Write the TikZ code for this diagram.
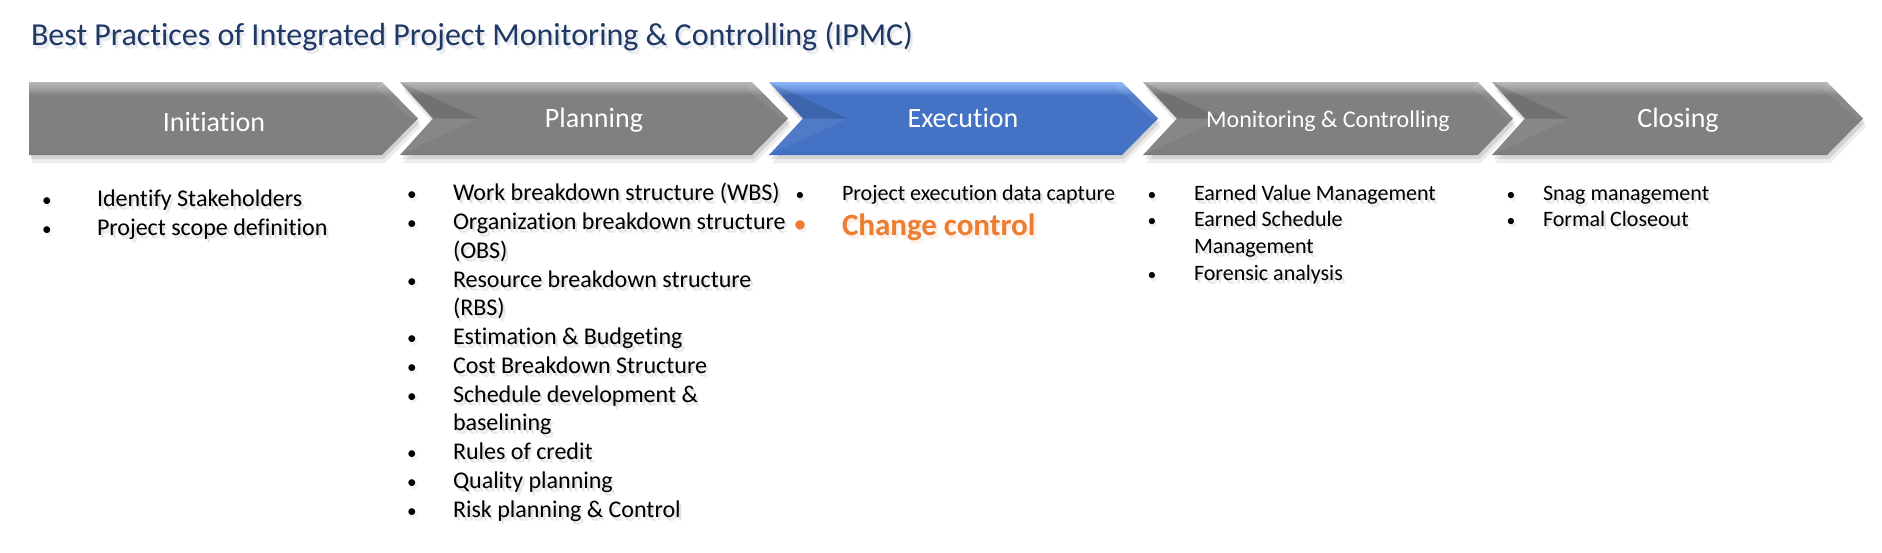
\documentclass[tikz,border=0pt]{standalone}
\usepackage{fontspec}
\setmainfont[Ligatures={NoCommon}]{Carlito}
\definecolor{titleblue}{HTML}{1F3864}
\definecolor{gmain}{HTML}{808080}
\definecolor{gtop}{HTML}{B8B8B8}
\definecolor{gband}{HTML}{9C9C9C}
\definecolor{gbot}{HTML}{7A7A7A}
\definecolor{bmain}{HTML}{4472C4}
\definecolor{btop}{HTML}{8FB8FA}
\definecolor{bband}{HTML}{6A96E0}
\definecolor{bbot}{HTML}{3F6CBE}
\definecolor{orng}{HTML}{ED7D31}
\pgfdeclareverticalshading{greychev}{100bp}{color(0bp)=(gbot); color(25bp)=(gbot); color(29bp)=(gmain); color(66bp)=(gmain); color(70bp)=(gband); color(75bp)=(gtop); color(100bp)=(gtop)}
\pgfdeclareverticalshading{bluechev}{100bp}{color(0bp)=(bbot); color(25bp)=(bbot); color(29bp)=(bmain); color(66bp)=(bmain); color(70bp)=(bband); color(75bp)=(btop); color(100bp)=(btop)}
\newcommand\chevpath[4]{(#1,82) -- (#3,82) -- (#4,118.5) -- (#3,155) -- (#1,155) -- (#2,118.5) -- cycle}
\newcommand\drawchev[5]{%
  \fill[black,opacity=0.07,xshift=3pt,yshift=-8pt] \chevpath{#1}{#2}{#3}{#4};
  \fill[black,opacity=0.10,xshift=2pt,yshift=-4pt] \chevpath{#1}{#2}{#3}{#4};
  \path[shading=#5] \chevpath{#1}{#2}{#3}{#4};
  \fill[black,opacity=0.11] (#1,82) -- (#2,118.5) -- ({#2+45},118.5) -- cycle;
  \fill[white,opacity=0.06] (#1,155) -- (#2,118.5) -- ({#2+45},118.5) -- cycle;
  \fill[white,opacity=0.08] ({#3-6},88) -- ({#4-6},118.5) -- (#4,118.5) -- (#3,82) -- cycle;
}
% text with a soft shadow made of faint offset copies
\newcommand\shtext[5]{% name, x, y, style, text
  \node[shd,#4,anchor=base west] (#1s1) at ({#2+1},{#3+1.5}) {#5};
  \node[shd,#4,anchor=base west] (#1s2) at ({#2+2},{#3+3}) {#5};
  \node[shd,#4,anchor=base west] (#1s3) at ({#2+3},{#3+4.5}) {#5};
  \node[#4,anchor=base west] (#1) at (#2,#3) {#5};}
\newcommand\citem[5]{\shtext{#1}{#2}{#3}{#4}{#5}}
\newcommand\bitem[6]{%
  \node[shd,#5,bul,anchor=base] (#1bs) at ({#2+2},{#4+3}) {•};
  \node[#5,bul,anchor=base] (#1b) at (#2,#4) {•};
  \citem{#1}{#3}{#4}{#5}{#6}}
\begin{document}
\begin{tikzpicture}[x=1pt,y=-1pt,
  every node/.style={inner sep=0pt, outer sep=0pt},
  lbl/.style={text=white, font=\fontsize{28}{34}\selectfont, anchor=base},
  big/.style={font=\fontsize{24}{29}\selectfont},
  small/.style={font=\fontsize{22}{26}\selectfont},
  bul/.style={scale=0.8},
  chg/.style={font=\bfseries\fontsize{31}{37}\selectfont, text=orng},
  shd/.style={text=black, opacity=0.06},
]
\useasboundingbox[fill=white] (0,0) rectangle (1882,552);
% title
\shtext{title}{31}{45}{font=\fontsize{32}{38}\selectfont, text=titleblue}{Best Practices of Integrated Project Monitoring \& Controlling (IPMC)}
% chevrons
\drawchev{1492}{1525}{1827}{1863}{greychev}
\drawchev{1143}{1177}{1478}{1513}{greychev}
\drawchev{769}{803}{1122}{1158}{bluechev}
\drawchev{400}{433}{752}{788}{greychev}
\fill[black,opacity=0.07,xshift=3pt,yshift=-8pt] \chevpath{29}{29}{382}{418};
\fill[black,opacity=0.10,xshift=2pt,yshift=-4pt] \chevpath{29}{29}{382}{418};
\path[shading=greychev] \chevpath{29}{29}{382}{418};
\fill[white,opacity=0.08] (376,88) -- (412,118.5) -- (418,118.5) -- (382,82) -- cycle;
% chevron labels
\node[lbl] (initiation) at (214,131) {Initiation};
\node[lbl] (planning) at (594,127) {Planning};
\node[lbl] (execution) at (963,127) {Execution};
\node[lbl, font=\fontsize{24}{29}\selectfont] (monitoring) at (1328,127) {Monitoring \& Controlling};
\node[lbl] (closing) at (1678,127) {Closing};
% Initiation list
\bitem{ia}{47}{97}{206}{big}{Identify Stakeholders}
\bitem{ib}{47}{97}{235}{big}{Project scope definition}
% Planning list
\bitem{pa}{412}{453}{200}{big}{Work breakdown structure (WBS)}
\bitem{pb}{412}{453}{229}{big}{Organization breakdown structure}
\citem{pbc}{453}{258}{big}{(OBS)}
\bitem{pc}{412}{453}{287}{big}{Resource breakdown structure}
\citem{pcc}{453}{315}{big}{(RBS)}
\bitem{pd}{412}{453}{344}{big}{Estimation \& Budgeting}
\bitem{pe}{412}{453}{373}{big}{Cost Breakdown Structure}
\bitem{pf}{412}{453}{402}{big}{Schedule development \&}
\citem{pfc}{453}{430}{big}{baselining}
\bitem{pg}{412}{453}{459}{big}{Rules of credit}
\bitem{ph}{412}{453}{488}{big}{Quality planning}
\bitem{pi}{412}{453}{517}{big}{Risk planning \& Control}
% Execution list
\bitem{ea}{800}{842}{200}{small}{Project execution data capture}
\node[shd,font=\bfseries\fontsize{22}{26}\selectfont,anchor=base] (ebbs) at (802,234) {•};
\node[font=\bfseries\fontsize{22}{26}\selectfont,text=orng,anchor=base] (ebb) at (800,231) {•};
\citem{eb}{842}{235}{chg}{Change control}
% Monitoring list
\bitem{ma}{1152}{1194}{200}{small}{Earned Value Management}
\bitem{mb}{1152}{1194}{226}{small}{Earned Schedule}
\citem{mbc}{1194}{253}{small}{Management}
\bitem{mc}{1152}{1194}{280}{small}{Forensic analysis}
% Closing list
\bitem{ca}{1511}{1543}{200}{small}{Snag management}
\bitem{cb}{1511}{1543}{226}{small}{Formal Closeout}
\end{tikzpicture}
\end{document}
